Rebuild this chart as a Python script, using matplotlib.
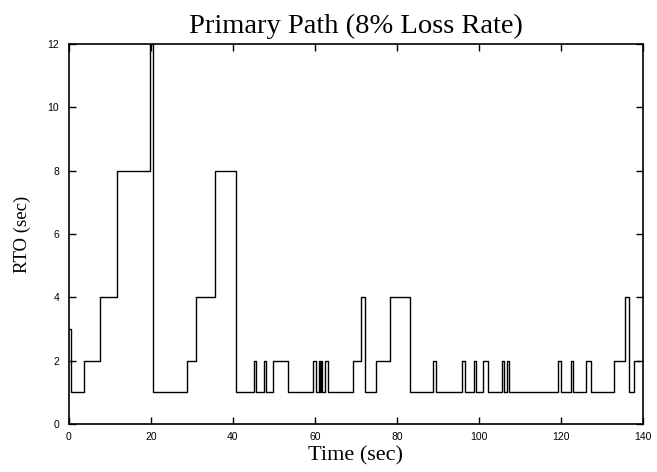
import matplotlib
matplotlib.use("Agg")
import matplotlib.pyplot as plt

# Retransmission timeout over time (step changes)
change_times = [0, 0.5, 3.6, 7.5, 11.6, 19.7, 20.4, 28.7, 30.9, 35.7, 40.7,
                45.1, 45.6, 47.5, 48.1, 49.7, 53.4, 59.6, 60.3, 60.9, 61.2,
                61.4, 61.6, 62.4, 63.1, 69.2, 71.3, 72.3, 75.0, 78.2, 83.2,
                88.8, 89.5, 95.9, 96.5, 98.8, 99.3, 100.9, 102.1, 105.7, 106.1,
                106.8, 107.3, 119.3, 119.9, 122.5, 123.0, 126.2, 127.3, 133.0,
                135.7, 136.6, 137.9, 139.0]
rto_values = [3, 1, 2, 4, 8, 12, 1, 2, 4, 8, 1,
              2, 1, 2, 1, 2, 1, 2, 1, 2, 1,
              2, 1, 2, 1, 2, 4, 1, 2, 4, 1,
              2, 1, 2, 1, 2, 1, 2, 1, 2, 1,
              2, 1, 2, 1, 2, 1, 2, 1, 2,
              4, 1, 2, 2]

x_ticks = [0, 20, 40, 60, 80, 100, 120, 140]
y_ticks = [0, 2, 4, 6, 8, 10, 12]

fig = plt.figure(figsize=(6.57, 4.72), dpi=100)
ax = fig.add_axes([69 / 657, 1 - 424 / 472, (643 - 69) / 657, (424 - 44) / 472])

ax.step(change_times, rto_values, where="post", color="black", linewidth=1.0)

ax.set_xlim(0, 140)
ax.set_ylim(0, 12)
ax.set_xticks(x_ticks)
ax.set_yticks(y_ticks)
ax.tick_params(direction="in", top=True, right=True, length=5, width=1,
               labelsize=7.5)
ax.tick_params(axis="x", pad=6)
ax.tick_params(axis="y", pad=7)
for lbl in ax.get_xticklabels() + ax.get_yticklabels():
    lbl.set_family("Liberation Sans")
for sp in ax.spines.values():
    sp.set_linewidth(1.2)

ax.set_title("Primary Path (8% Loss Rate)", family="Liberation Serif",
             fontsize=20.5, pad=8)
ax.set_xlabel("Time (sec)", family="Liberation Serif", fontsize=16, labelpad=3)
ax.set_ylabel("RTO (sec)", family="Liberation Serif", fontsize=13.5, labelpad=12)

fig.savefig("out.png", dpi=100)
